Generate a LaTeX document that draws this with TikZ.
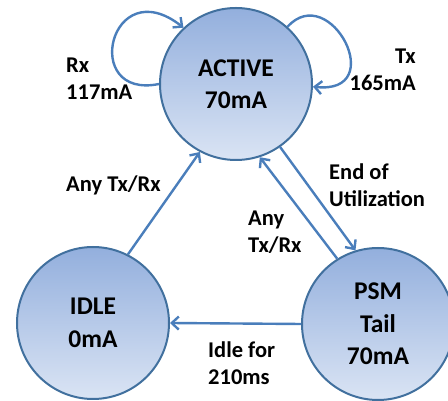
\documentclass[tikz,border=0pt]{standalone}
\usepackage{fontspec}
\setmainfont{Carlito}
\usetikzlibrary{arrows.meta}
\definecolor{stborder}{HTML}{41709E}
\definecolor{sttop}{HTML}{93AFDD}
\definecolor{stbot}{HTML}{DAE4F4}
\definecolor{arr}{HTML}{4A7EBB}
\tikzset{
  state/.style={circle, draw=stborder, line width=2pt, minimum size=152pt, inner sep=0pt,
    top color=sttop, bottom color=stbot, align=center,
    font=\bfseries\fontsize{25.5}{32.5}\selectfont},
  lbl/.style={inner sep=0pt, font=\bfseries\fontsize{22.5}{27}\selectfont},
  conn/.style={draw=arr, line width=2.4pt, -{Straight Barb[length=7pt,width=13pt,line width=2.4pt]}}
}
\begin{document}
\begin{tikzpicture}[x=1pt,y=1pt]
\useasboundingbox (0,0) rectangle (448,401);
\node[state] (active) at (236,317) {ACTIVE\\70mA};
\node[state] (idle) at (93,78) {IDLE\\0mA};
\node[state] (psm) at (378,77) {PSM\\Tail\\70mA};

\draw[conn] (active.180) .. controls (80,301) and (110,431) .. (active.133);
\draw[conn] (active.48) .. controls (330,421) and (390,306) .. (active.-2);
\draw[conn] (idle.63) -- (active.242);
\draw[conn] (psm.122) -- (active.288);
\draw[conn] (active.305) -- (psm.107);
\draw[conn] (psm.west) -- (idle.east);

\node[lbl, anchor=north west, align=left] (lrx) at (66,343.5) {Rx\\117mA};
\node[lbl, anchor=north east, align=right] (ltx) at (416,352.5) {Tx\\165mA};
\node[lbl, anchor=base west] (lany1) at (66,209) {Any Tx/Rx};
\node[lbl, anchor=north west, align=left] (lend) at (329,237.5) {End of\\Utilization};
\node[lbl, anchor=north west, align=left] (lany2) at (248,190.5) {Any\\Tx/Rx};
\node[lbl, anchor=north west, align=left] (lidle) at (208,59.6) {Idle for\\210ms};
\end{tikzpicture}
\end{document}
